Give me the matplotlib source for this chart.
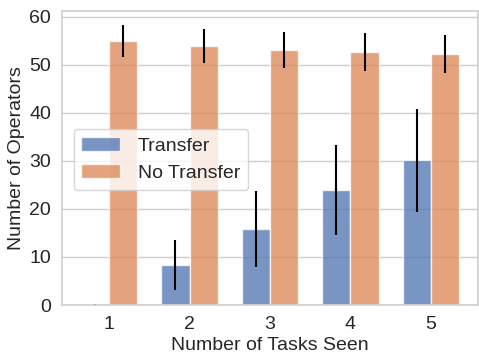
import numpy as np
import matplotlib
matplotlib.use("Agg")
import matplotlib.pyplot as plt
import seaborn as sns

sns.set_theme(style="whitegrid")
plt.rcParams['font.family'] = ['Liberation Sans', 'DejaVu Sans']

# dados
tarefas = [1, 2, 3, 4, 5]
transfer = [0.1, 8.4, 15.9, 24.0, 30.1]
transfer_err = [0.1, 5.2, 7.9, 9.4, 10.7]
no_transfer = [55.0, 53.9, 53.1, 52.7, 52.2]
no_transfer_err = [3.3, 3.6, 3.75, 3.9, 3.95]

cores = sns.color_palette("deep")
x = np.array(tarefas)
w = 0.35

fig = plt.figure(figsize=(4.79, 3.56), dpi=100)
ax = fig.add_axes([62/479, 1 - 305/356, 416/479, 294/356])

ax.bar(x - w/2, transfer, w, yerr=transfer_err, color=cores[0], alpha=0.75,
       edgecolor='white', label='Transfer', error_kw=dict(ecolor='black', elinewidth=1.5))
ax.bar(x + w/2, no_transfer, w, yerr=no_transfer_err, color=cores[1], alpha=0.75,
       edgecolor='white', label='No Transfer', error_kw=dict(ecolor='black', elinewidth=1.5))

ax.set_xticks(x)
ax.set_xticklabels([str(t) for t in tarefas])
ax.xaxis.grid(False)
ax.tick_params(labelsize=14, pad=2)
for s in ax.spines.values():
    s.set_color('#d0d0d0')
ax.set_xlabel("Number of Tasks Seen", fontsize=14, labelpad=3)
ax.set_ylabel("Number of Operators", fontsize=14, labelpad=3)
ax.legend(loc='center left', bbox_to_anchor=(0.0, 0.495), fontsize=14,
          handletextpad=0.9, borderaxespad=0.6)

fig.savefig("out.png", dpi=100)
